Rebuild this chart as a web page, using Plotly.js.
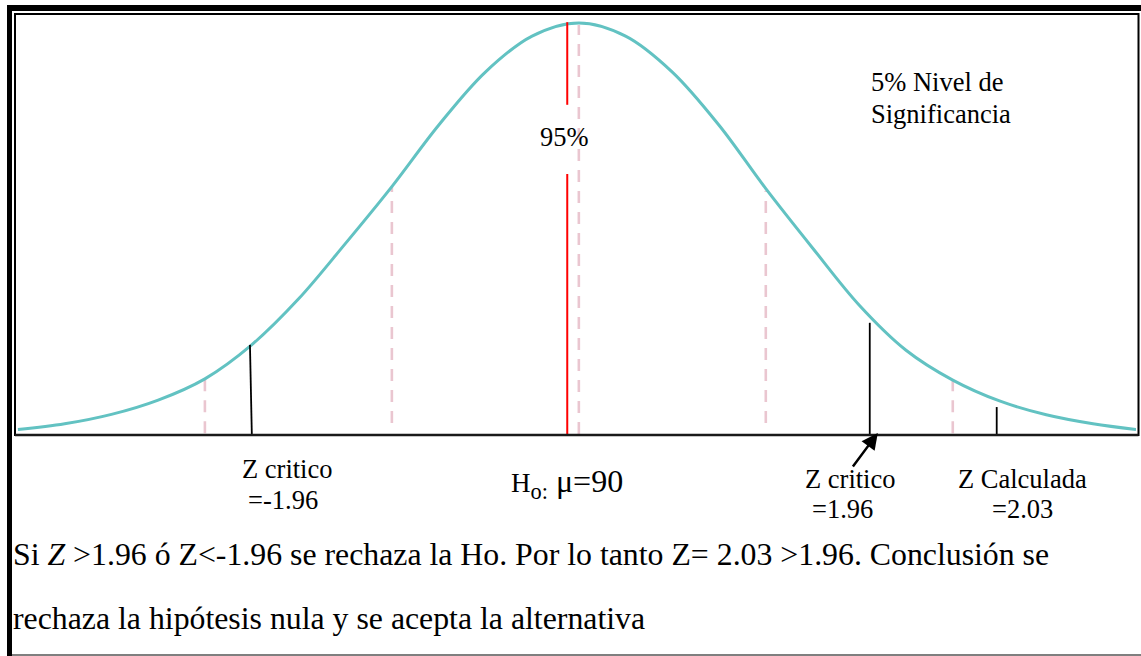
<!DOCTYPE html>
<html>
<head>
<meta charset="utf-8">
<script src="https://cdn.plot.ly/plotly-3.0.1.min.js"></script>
<style>
  html, body { margin: 0; padding: 0; background: #fff; }
  #chart { width: 1141px; height: 656px; }
</style>
</head>
<body>
<div id="chart"></div>
<script>
// ---- Data (x in standard-deviation units, y relative to the peak) ----
const curveZ = [-3.0, -2.75, -2.5, -2.25, -2.0, -1.75, -1.5, -1.25, -1.0, -0.75, -0.5, -0.25, 0.0,
                 0.25, 0.5, 0.75, 1.0, 1.25, 1.5, 1.75, 2.0, 2.25, 2.5, 2.75, 2.98];
const curveH = [0.006, 0.02, 0.043, 0.078, 0.13, 0.213, 0.325, 0.46, 0.60, 0.75, 0.88, 0.968, 1.0,
                 0.968, 0.88, 0.75, 0.595, 0.45, 0.31, 0.20, 0.127, 0.076, 0.042, 0.02, 0.006];

// dashed sigma guides
const sigmaZ      = [-2, -1, 0, 1, 2];
const sigmaTop    = [0.13, 0.60, 0.995, 0.59, 0.127];
const sigmaBottom = [-0.003, 0.022, -0.005, 0.022, -0.003];

// red mean line (two segments around the "95%" label)
const meanZ = -0.062;
const meanSeg1 = [1.002, 0.80];
const meanSeg2 = [0.631, -0.005];

// black marker lines: left Z critico, right Z critico, Z calculada (as drawn)
const markTopZ    = [-1.759, 1.556, 2.235];
const markBottomZ = [-1.749, 1.556, 2.235];
const markTop     = [0.213, 0.267, 0.061];
const markBottom  = [-0.005, -0.005, -0.005];

// labels
const labelNivel = ["5% Nivel de", "Significancia"];
const label95 = "95%";
const labelZcritL = ["Z critico", "=-1.96"];
const labelZcritR = ["Z critico", "=1.96"];
const labelZcalc  = ["Z Calculada", "=2.03"];
const labelHo = '<span style="font-size:27px">H</span><sub>o:</sub> μ=90';
const conclusion = [
  "Si <i>Z</i> &gt;1.96 ó Z&lt;-1.96 se rechaza la Ho. Por lo tanto Z= 2.03 &gt;1.96. Conclusión se",
  "rechaza la hipótesis nula y se acepta la alternativa"
];

// ---- Layout helpers (pixel -> paper) ----
const L = 17, R = 1136, T = 14, B = 435;
const px = X => (X - L) / (R - L);
const py = Y => (B - Y) / (B - T);
const FONT = "Liberation Serif, Times New Roman, serif";

function txt(text, X, baseY, size, anchor) {
  return {
    text: text, xref: "paper", yref: "paper",
    x: px(X), y: py(baseY - 0.3 * size),
    xanchor: anchor || "center", yanchor: "middle",
    showarrow: false, align: "left",
    font: { family: FONT, size: size, color: "#000" }
  };
}

// ---- Traces ----
const traces = [];

sigmaZ.forEach((z, i) => {
  traces.push({
    x: [z, z], y: [sigmaBottom[i], sigmaTop[i]], mode: "lines", hoverinfo: "skip",
    line: { color: "#eac6d0", width: 2.6, dash: "12px,9px" }
  });
});

traces.push({
  x: curveZ, y: curveH, mode: "lines", hoverinfo: "skip",
  line: { color: "#62c2c2", width: 3, shape: "spline", smoothing: 1 }
});

traces.push({
  x: [meanZ, meanZ, null, meanZ, meanZ],
  y: [meanSeg1[0], meanSeg1[1], null, meanSeg2[0], meanSeg2[1]],
  mode: "lines", hoverinfo: "skip", connectgaps: false,
  line: { color: "#ff0000", width: 2 }
});

markTopZ.forEach((z, i) => {
  traces.push({
    x: [markBottomZ[i], z], y: [markBottom[i], markTop[i]], mode: "lines", hoverinfo: "skip",
    line: { color: "#000", width: 1.8 }
  });
});

// ---- Annotations ----
const LBL = 26.5;
const BODY = 31.8;
const annotations = [
  txt(labelNivel[0], 869, 90, LBL, "left"),
  txt(labelNivel[1], 869, 122, LBL, "left"),
  txt(label95, 564, 145, LBL, "center"),
  txt(labelZcritL[0], 287.5, 477, LBL, "center"),
  txt(labelZcritL[1], 283, 508, LBL, "center"),
  txt(labelZcritR[0], 850, 487, LBL, "center"),
  txt(labelZcritR[1], 842, 517, LBL, "center"),
  txt(labelZcalc[0], 1022, 487, LBL, "center"),
  txt(labelZcalc[1], 1022, 517, LBL, "center"),
  txt(labelHo, 509, 493, 32, "left"),
  txt(conclusion[0], 11, 564, BODY, "left"),
  txt(conclusion[1], 11, 628, BODY, "left"),
  {
    xref: "x", yref: "y", x: 1.599, y: -0.0024, ax: -26, ay: 35,
    text: "", showarrow: true, arrowhead: 2, arrowsize: 1.3, arrowwidth: 2.5, arrowcolor: "#000"
  }
];

// ---- Shapes (page frame) ----
const shapes = [
  { type: "rect", xref: "paper", yref: "paper", x0: px(7), x1: px(1141), y0: py(5), y1: py(11),
    fillcolor: "#000", line: { width: 0 } },
  { type: "rect", xref: "paper", yref: "paper", x0: px(7), x1: px(12), y0: py(5), y1: py(656),
    fillcolor: "#000", line: { width: 0 } },
  { type: "rect", xref: "paper", yref: "paper", x0: px(15), x1: px(1138.5), y0: py(435), y1: py(14),
    line: { color: "#000", width: 2 } },
  { type: "line", xref: "paper", yref: "paper", x0: px(15), x1: px(1138.5), y0: py(435), y1: py(435),
    line: { color: "#1a1a1a", width: 2.6 } },
  { type: "line", xref: "paper", yref: "paper", x0: px(12), x1: px(1141), y0: py(655), y1: py(655),
    line: { color: "#555", width: 1.5 } }
];

const layout = {
  width: 1141, height: 656,
  margin: { l: L, r: 1141 - R, t: T, b: 656 - B, pad: 0 },
  paper_bgcolor: "#fff", plot_bgcolor: "#fff",
  showlegend: false,
  xaxis: { range: [-3.005, 2.98], visible: false, fixedrange: true },
  yaxis: { range: [-0.00733, 1.022], visible: false, fixedrange: true },
  annotations: annotations,
  shapes: shapes
};

Plotly.newPlot("chart", traces, layout, { staticPlot: true, displayModeBar: false });
</script>
</body>
</html>
